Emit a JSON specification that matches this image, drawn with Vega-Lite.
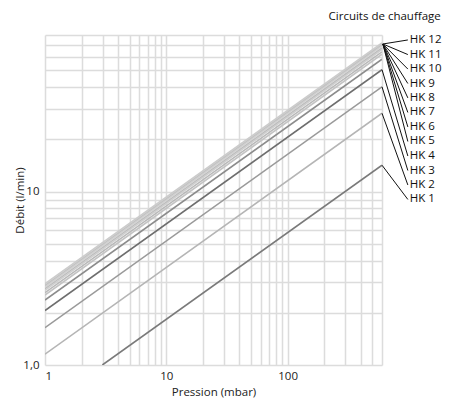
{
  "$schema": "https://vega.github.io/schema/vega-lite/v6.json",
  "width": 337,
  "height": 330,
  "autosize": {"type": "none"},
  "padding": {"left": 45, "top": 35, "right": 67, "bottom": 33},
  "config": {
    "view": {"stroke": null},
    "font": "Open Sans, sans-serif",
    "axis": {
      "grid": true,
      "gridColor": "#dcdcdc",
      "gridWidth": 1.5,
      "ticks": false,
      "domain": false,
      "labelFontSize": 11.5,
      "labelColor": "#222222",
      "titleFontSize": 11.5,
      "titleFontWeight": "normal",
      "titleColor": "#222222"
    }
  },
  "datasets": {
    "lines": [
      {"hk": "HK 1", "p": 2.97, "q": 1.0},
      {"hk": "HK 1", "p": 600, "q": 14.2},
      {"hk": "HK 2", "p": 1, "q": 1.155},
      {"hk": "HK 2", "p": 600, "q": 28.3},
      {"hk": "HK 3", "p": 1, "q": 1.641},
      {"hk": "HK 3", "p": 600, "q": 40.2},
      {"hk": "HK 4", "p": 1, "q": 2.062},
      {"hk": "HK 4", "p": 600, "q": 50.5},
      {"hk": "HK 5", "p": 1, "q": 2.368},
      {"hk": "HK 5", "p": 600, "q": 58},
      {"hk": "HK 6", "p": 1, "q": 2.531},
      {"hk": "HK 6", "p": 600, "q": 62},
      {"hk": "HK 7", "p": 1, "q": 2.613},
      {"hk": "HK 7", "p": 600, "q": 64},
      {"hk": "HK 8", "p": 1, "q": 2.694},
      {"hk": "HK 8", "p": 600, "q": 66},
      {"hk": "HK 9", "p": 1, "q": 2.756},
      {"hk": "HK 9", "p": 600, "q": 67.5},
      {"hk": "HK 10", "p": 1, "q": 2.817},
      {"hk": "HK 10", "p": 600, "q": 69},
      {"hk": "HK 11", "p": 1, "q": 2.878},
      {"hk": "HK 11", "p": 600, "q": 70.5},
      {"hk": "HK 12", "p": 1, "q": 2.939},
      {"hk": "HK 12", "p": 600, "q": 72}
    ],
    "labels": [
      {"hk": "HK 1", "p0": 600, "q0": 14.2, "p": 980, "q": 9.01},
      {"hk": "HK 2", "p0": 600, "q0": 28.3, "p": 980, "q": 10.92},
      {"hk": "HK 3", "p0": 600, "q0": 40.2, "p": 980, "q": 13.23},
      {"hk": "HK 4", "p0": 600, "q0": 50.5, "p": 980, "q": 16.04},
      {"hk": "HK 5", "p0": 610, "q0": 71, "p": 980, "q": 19.45},
      {"hk": "HK 6", "p0": 610, "q0": 71, "p": 980, "q": 23.6},
      {"hk": "HK 7", "p0": 610, "q0": 71, "p": 980, "q": 28.6},
      {"hk": "HK 8", "p0": 610, "q0": 71, "p": 980, "q": 34.7},
      {"hk": "HK 9", "p0": 610, "q0": 71, "p": 980, "q": 42.0},
      {"hk": "HK 10", "p0": 610, "q0": 71, "p": 980, "q": 50.9},
      {"hk": "HK 11", "p0": 610, "q0": 71, "p": 980, "q": 61.7},
      {"hk": "HK 12", "p0": 610, "q0": 71, "p": 980, "q": 74.9}
    ],
    "note": [{"t": "Circuits de chauffage", "p": 1830, "q": 101}]
  },
  "layer": [
    {
      "data": {"name": "lines"},
      "mark": {"type": "line", "strokeWidth": 1.6, "clip": true},
      "encoding": {
        "x": {
          "field": "p", "type": "quantitative",
          "scale": {"type": "log", "domain": [1, 600], "nice": false},
          "axis": {
            "title": "Pression (mbar)",
            "values": [1, 2, 3, 4, 5, 6, 7, 8, 9, 10, 20, 30, 40, 50, 60, 70, 80, 90, 100, 200, 300, 400, 500, 600],
            "labelExpr": "datum.value == 1 ? '1' : datum.value == 10 ? '10' : datum.value == 100 ? '100' : ''",
            "labelPadding": 5,
            "titlePadding": 5
          }
        },
        "y": {
          "field": "q", "type": "quantitative",
          "scale": {"type": "log", "domain": [1, 80], "nice": false},
          "axis": {
            "title": "Débit (l/min)",
            "values": [1, 2, 3, 4, 5, 6, 7, 8, 9, 10, 20, 30, 40, 50, 60, 70, 80],
            "labelExpr": "datum.value == 1 ? '1,0' : datum.value == 10 ? '10' : ''",
            "labelPadding": 6,
            "titlePadding": -3
          }
        },
        "detail": {"field": "hk"},
        "color": {
          "field": "hk", "type": "nominal", "legend": null,
          "scale": {
            "domain": ["HK 1", "HK 2", "HK 3", "HK 4", "HK 5", "HK 6", "HK 7", "HK 8", "HK 9", "HK 10", "HK 11", "HK 12"],
            "range": ["#7a7a7a", "#b5b5b5", "#9a9a9a", "#6e6e6e", "#8c8c8c", "#c4c4c4", "#b8b8b8", "#cfcfcf", "#bdbdbd", "#d2d2d2", "#c2c2c2", "#cccccc"]
          }
        }
      }
    },
    {
      "data": {"name": "labels"},
      "mark": {"type": "rule", "color": "#111111", "strokeWidth": 1},
      "encoding": {
        "x": {"field": "p0", "type": "quantitative"},
        "y": {"field": "q0", "type": "quantitative"},
        "x2": {"field": "p"},
        "y2": {"field": "q"}
      }
    },
    {
      "data": {"name": "labels"},
      "mark": {"type": "text", "align": "left", "baseline": "middle", "dx": 2, "fontSize": 11.5, "color": "#111111"},
      "encoding": {
        "x": {"field": "p", "type": "quantitative"},
        "y": {"field": "q", "type": "quantitative"},
        "text": {"field": "hk"}
      }
    },
    {
      "data": {"name": "note"},
      "mark": {"type": "text", "align": "right", "baseline": "middle", "fontSize": 11.5, "color": "#111111"},
      "encoding": {
        "x": {"field": "p", "type": "quantitative"},
        "y": {"field": "q", "type": "quantitative"},
        "text": {"field": "t"}
      }
    }
  ]
}
